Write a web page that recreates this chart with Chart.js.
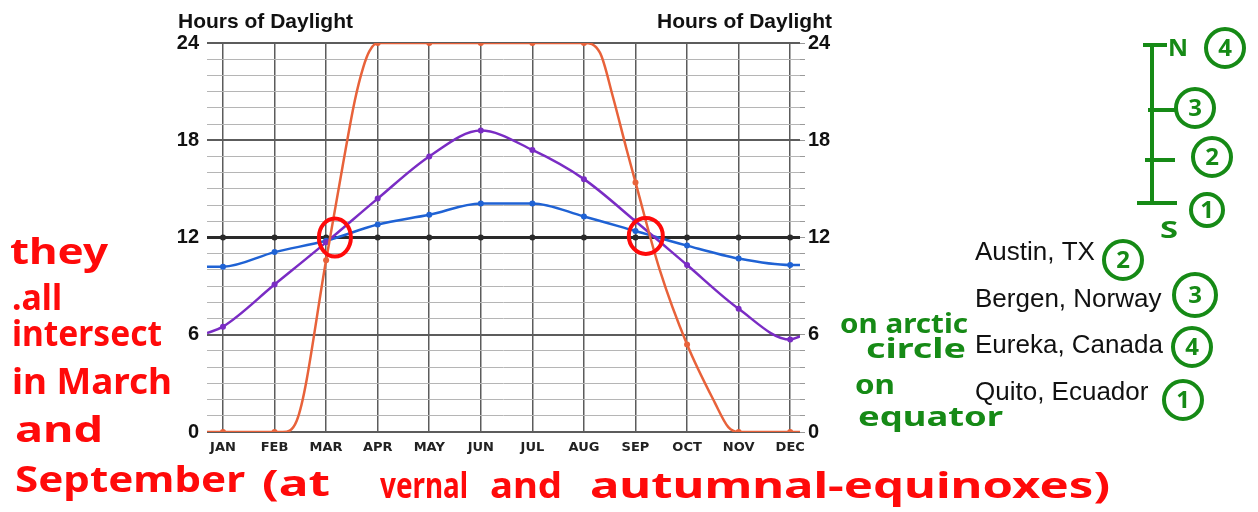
<!DOCTYPE html>
<html lang="en">
<head>
<meta charset="UTF-8">
<title>Hours of Daylight</title>
<script src="https://cdn.jsdelivr.net/npm/chart.js"></script>
<style>
    body { margin: 0; background: #fff; }
    canvas { display: block; }
</style>
</head>
<body>
<canvas id="daylightChart" width="1258" height="512"></canvas>
<script>
    const months = ['JAN', 'FEB', 'MAR', 'APR', 'MAY', 'JUN', 'JUL', 'AUG', 'SEP', 'OCT', 'NOV', 'DEC'];
    const hourLabels = [0, 6, 12, 18, 24];
    const cities = ['Austin, TX', 'Bergen, Norway', 'Eureka, Canada', 'Quito, Ecuador'];

    // x: 0 = JAN ... 11 = DEC, first and last values sit on the plot borders
    const monthX = [-0.31, 0, 1, 2, 3, 4, 5, 6, 7, 8, 9, 10, 11, 11.19];
    const austin = [10.2, 10.2, 11.1, 11.8, 12.8, 13.4, 14.1, 14.1, 13.3, 12.4, 11.5, 10.7, 10.3, 10.3];
    const bergen = [6.1, 6.5, 9.1, 11.7, 14.4, 17.0, 18.6, 17.4, 15.6, 13.0, 10.3, 7.6, 5.7, 5.9];
    const quito = [12, 12, 12, 12, 12, 12, 12, 12, 12, 12, 12, 12, 12, 12];

    const eurekaX = [-0.31, 0, 1, 1.16, 1.43, 2, 2.32, 2.56, 2.72, 2.84, 3, 4, 5, 6, 7, 7.31, 7.56, 7.83, 8, 8.47, 9, 9.54, 9.8, 10, 11, 11.19];
    const eureka = [0, 0, 0, 0, 0.7, 10.6, 16.4, 20.5, 22.5, 23.5, 24, 24, 24, 24, 24, 23.4, 20.7, 17.4, 15.4, 10.0, 5.4, 1.8, 0.3, 0, 0, 0];

    function points(xs, ys) {
        return xs.map(function (x, i) { return { x: x, y: ys[i] }; });
    }

    function monthDot(ctx) {
        return Number.isInteger(ctx.raw.x) ? 3 : 0;
    }

    function line(label, xs, ys, color, width) {
        return {
            label: label,
            data: points(xs, ys),
            borderColor: color,
            backgroundColor: color,
            borderWidth: width,
            pointRadius: monthDot,
            pointBorderWidth: 0,
            cubicInterpolationMode: 'monotone'
        };
    }

    // fit a word into a given width (handwritten notes are wide)
    function note(ctx, text, x, y, width) {
        const w = ctx.measureText(text).width;
        ctx.save();
        ctx.translate(x, y);
        ctx.scale(width / w, 1);
        ctx.fillText(text, 0, 0);
        ctx.restore();
    }

    function ring(ctx, x, y, rx, ry) {
        ctx.beginPath();
        ctx.ellipse(x, y, rx, ry, 0, 0, Math.PI * 2);
        ctx.stroke();
    }

    const notes = {
        id: 'notes',
        afterDraw(chart) {
            const ctx = chart.ctx;
            const sx = chart.scales.x;
            const sy = chart.scales.y;

            ctx.save();
            ctx.fillStyle = '#111';
            ctx.font = 'bold 21px "Liberation Sans"';
            ctx.textAlign = 'left';
            ctx.fillText('Hours of Daylight', 178, 28);
            ctx.textAlign = 'right';
            ctx.fillText('Hours of Daylight', 832, 28);

            ctx.textAlign = 'left';
            ctx.font = '26px "Liberation Sans"';
            const cityY = [260, 307, 353, 400];
            cities.forEach(function (c, i) { ctx.fillText(c, 975, cityY[i]); });

            // red circles at the equinox crossings
            ctx.strokeStyle = '#ff0a0a';
            ctx.lineWidth = 4;
            ring(ctx, sx.getPixelForValue(2.17), sy.getPixelForValue(12), 16, 19);
            ring(ctx, sx.getPixelForValue(8.2), sy.getPixelForValue(12.1), 17, 18);

            ctx.fillStyle = '#ff0a0a';
            ctx.font = 'bold 36px "Noto Sans"';
            note(ctx, 'they', 10, 264, 98);
            note(ctx, '.all', 12, 310, 50);
            note(ctx, 'intersect', 12, 346, 150);
            note(ctx, 'in March', 12, 394, 160);
            note(ctx, 'and', 15, 442, 88);
            note(ctx, 'September', 15, 492, 230);
            note(ctx, '(at', 262, 496, 68);
            note(ctx, 'vernal', 380, 498, 88);
            note(ctx, 'and', 490, 498, 72);
            note(ctx, 'autumnal-equinoxes)', 590, 498, 520);

            // green N-S latitude scale
            const green = '#168a16';
            ctx.strokeStyle = green;
            ctx.fillStyle = green;
            ctx.lineWidth = 4;
            ctx.beginPath();
            ctx.moveTo(1152, 45); ctx.lineTo(1152, 203);
            ctx.moveTo(1143, 45); ctx.lineTo(1167, 45);
            ctx.moveTo(1148, 110); ctx.lineTo(1175, 110);
            ctx.moveTo(1145, 160); ctx.lineTo(1175, 160);
            ctx.moveTo(1137, 203); ctx.lineTo(1177, 203);
            ctx.stroke();

            ctx.font = 'bold 24px "Noto Sans"';
            note(ctx, 'N', 1168, 56, 20);
            note(ctx, 'S', 1160, 238, 18);

            const rings = [
                ['4', 1225, 48, 19], ['3', 1195, 108, 19], ['2', 1212, 157, 19], ['1', 1207, 210, 16],
                ['2', 1123, 260, 19], ['3', 1195, 295, 21], ['4', 1192, 347, 19], ['1', 1183, 400, 19]
            ];
            ctx.lineWidth = 4;
            ctx.textAlign = 'center';
            ctx.textBaseline = 'middle';
            rings.forEach(function (r) {
                ring(ctx, r[1], r[2], r[3], r[3]);
                ctx.fillText(r[0], r[1], r[2] + 1);
            });

            ctx.textAlign = 'left';
            ctx.textBaseline = 'alphabetic';
            ctx.font = 'bold 26px "Noto Sans"';
            note(ctx, 'on arctic', 840, 333, 128);
            note(ctx, 'circle', 866, 358, 100);
            note(ctx, 'on', 855, 394, 40);
            note(ctx, 'equator', 858, 426, 145);
            ctx.restore();
        }
    };

    new Chart(document.getElementById('daylightChart'), {
        type: 'line',
        data: {
            datasets: [
                line(cities[2], eurekaX, eureka, '#e8623a', 2.5),
                line(cities[1], monthX, bergen, '#7a2cc4', 2.5),
                line(cities[0], monthX, austin, '#1f62d4', 2.5),
                line(cities[3], monthX, quito, '#2a2a2a', 3)
            ]
        },
        options: {
            responsive: false,
            animation: false,
            layout: { padding: { top: 43, left: 0, right: 0, bottom: 0 } },
            plugins: {
                legend: { display: false },
                tooltip: { enabled: false }
            },
            scales: {
                x: {
                    type: 'linear',
                    min: -0.31,
                    max: 11.19,
                    afterFit: function (s) { s.height = 80; },
                    border: { display: false },
                    grid: { color: '#5c5c5c', lineWidth: 1.5, drawTicks: false },
                    ticks: {
                        stepSize: 1,
                        includeBounds: false,
                        autoSkip: false,
                        maxRotation: 0,
                        padding: 8,
                        color: '#222',
                        font: { family: 'DejaVu Sans', weight: 'bold', size: 13 },
                        callback: function (v) { return months[v]; }
                    }
                },
                y: {
                    min: 0,
                    max: 24,
                    afterFit: function (s) { s.width = 207; },
                    border: { display: false },
                    grid: {
                        drawTicks: false,
                        color: function (c) { return hourLabels.includes(c.tick.value) ? '#5c5c5c' : '#b5b5b5'; },
                        lineWidth: function (c) { return hourLabels.includes(c.tick.value) ? 2 : 1; }
                    },
                    ticks: {
                        stepSize: 1,
                        autoSkip: false,
                        padding: 8,
                        color: '#111',
                        font: { family: 'Liberation Sans', weight: 'bold', size: 20 },
                        callback: function (v) { return hourLabels.includes(v) ? v : ''; }
                    }
                },
                y2: {
                    position: 'right',
                    min: 0,
                    max: 24,
                    afterFit: function (s) { s.width = 458; },
                    border: { display: false },
                    grid: { drawOnChartArea: false, tickLength: 5, color: '#9a9a9a' },
                    ticks: {
                        stepSize: 1,
                        autoSkip: false,
                        padding: 3,
                        color: '#111',
                        font: { family: 'Liberation Sans', weight: 'bold', size: 20 },
                        callback: function (v) { return hourLabels.includes(v) ? v : ''; }
                    }
                }
            }
        },
        plugins: [notes]
    });
</script>
</body>
</html>
